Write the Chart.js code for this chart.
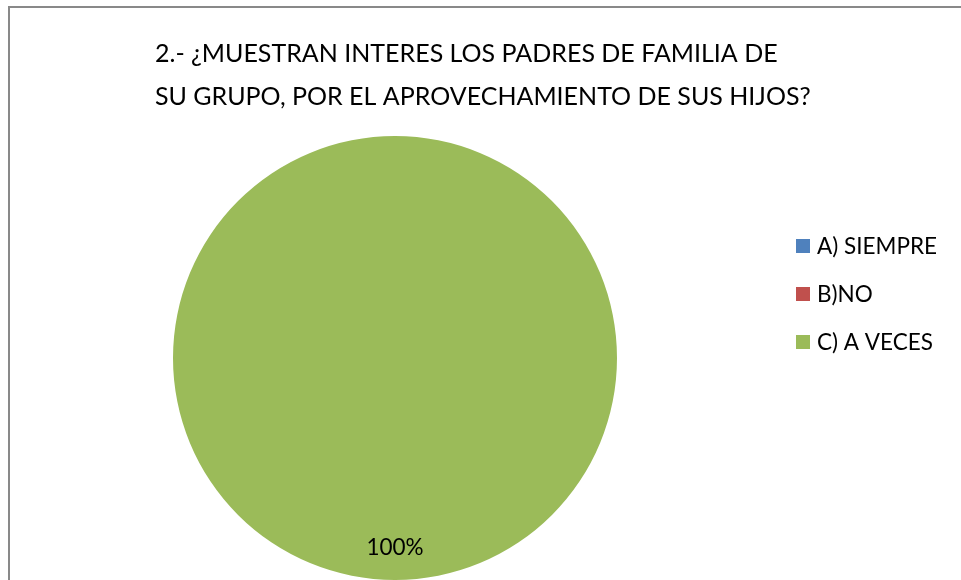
<!DOCTYPE html>
<html>
<head>
<meta charset="utf-8">
<script src="https://cdn.jsdelivr.net/npm/chart.js@4"></script>
<style>
  body { margin: 0; background: #fff; }
  canvas { display: block; }
</style>
</head>
<body>
<canvas id="pieChart" width="961" height="580"></canvas>
<script>
// chart data
const titleLines = ['2.- ¿MUESTRAN INTERES LOS PADRES DE FAMILIA DE', 'SU GRUPO, POR EL APROVECHAMIENTO DE SUS HIJOS?'];
const categories = ['A) SIEMPRE', 'B)NO', 'C) A VECES'];
const percentages = [0, 0, 100];
const sliceColors = ['#4F81BD', '#C0504D', '#9BBB59'];

const fontFamily = 'Lato, "Open Sans", sans-serif';

// frame, title and legend drawn like the spreadsheet export
const decorPlugin = {
    id: 'decor',
    beforeDraw(chart) {
        const ctx = chart.ctx;
        ctx.save();
        ctx.fillStyle = '#fff';
        ctx.fillRect(0, 0, chart.width, chart.height);
        ctx.strokeStyle = '#898989';
        ctx.lineWidth = 2;
        ctx.strokeRect(9, 7, chart.width + 20, chart.height + 20);
        ctx.restore();
    },
    afterDraw(chart) {
        const ctx = chart.ctx;
        ctx.save();
        ctx.fillStyle = '#000';
        ctx.textBaseline = 'alphabetic';
        ctx.textAlign = 'left';
        ctx.font = '25px ' + fontFamily;
        titleLines.forEach((line, i) => {
            ctx.fillText(line, 155, 62 + i * 43);
        });

        // legend
        ctx.font = '22.5px ' + fontFamily;
        ctx.textBaseline = 'middle';
        categories.forEach((label, i) => {
            const y = 246 + i * 48;
            ctx.fillStyle = sliceColors[i];
            ctx.fillRect(796, y - 7, 14, 14);
            ctx.fillStyle = '#000';
            ctx.fillText(label, 817, y + 1);
        });

        // data labels
        const meta = chart.getDatasetMeta(0);
        ctx.textAlign = 'center';
        ctx.font = '22.5px ' + fontFamily;
        meta.data.forEach((arc, i) => {
            if (!percentages[i]) return;
            const mid = (arc.startAngle + arc.endAngle) / 2;
            const r = arc.outerRadius * 0.855;
            ctx.fillText(percentages[i] + '%', arc.x + Math.cos(mid) * r, arc.y + Math.sin(mid) * r);
        });
        ctx.restore();
    }
};

new Chart(document.getElementById('pieChart'), {
    type: 'pie',
    data: {
        labels: categories,
        datasets: [{
            data: percentages,
            backgroundColor: sliceColors,
            borderWidth: 0
        }]
    },
    options: {
        responsive: false,
        animation: false,
        layout: {
            padding: { left: 173, right: 344, top: 136, bottom: 0 }
        },
        plugins: {
            legend: { display: false },
            title: { display: false },
            tooltip: { enabled: false }
        }
    },
    plugins: [decorPlugin]
});
</script>
</body>
</html>
